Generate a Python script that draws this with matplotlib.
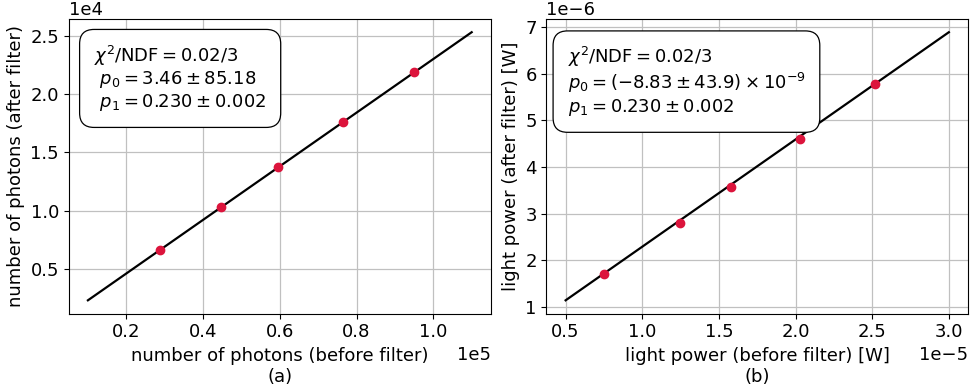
import numpy as np
import matplotlib
matplotlib.use("Agg")
import matplotlib.pyplot as plt

# ---- data ----
# (a) photon counts
photons_before = [0.287e5, 0.447e5, 0.595e5, 0.765e5, 0.951e5]
photons_after = [0.663e4, 1.034e4, 1.374e4, 1.762e4, 2.191e4]
fit_a = (3.46, 0.230)          # p0, p1
fit_a_range = (0.1e5, 1.1e5)

# (b) light power
power_before = [0.75e-5, 1.245e-5, 1.576e-5, 2.03e-5, 2.52e-5]
power_after = [1.70e-6, 2.81e-6, 3.57e-6, 4.61e-6, 5.79e-6]
fit_b = (-8.83e-9, 0.230)
fit_b_range = (0.5e-5, 3.0e-5)

text_a = "\n".join([r"$\chi^2/\mathrm{NDF} = 0.02/3$",
                    r" $p_0 = 3.46 \pm 85.18$",
                    r" $p_1 = 0.230 \pm 0.002$"])
text_b = "\n".join([r"$\chi^2/\mathrm{NDF} = 0.02/3$",
                    r"$p_0 = (-8.83 \pm 43.9) \times 10^{-9}$",
                    r"$p_1 = 0.230 \pm 0.002$"])

plt.rcParams["font.size"] = 13

fig = plt.figure(figsize=(9.72, 3.92), dpi=100)
ax1 = fig.add_axes([0.0707, 0.1997, 0.4343, 0.7523])
ax2 = fig.add_axes([0.5622, 0.1997, 0.4337, 0.7523])


def draw(ax, x, y, fit, xr, txt, xlabel, ylabel, tx, ty):
    xs = np.array(xr)
    ax.plot(xs, fit[0] + fit[1] * xs, color="k", lw=1.6, zorder=2)
    ax.plot(x, y, "o", color="crimson", ms=6, zorder=3)
    ax.grid(True, color="#c0c0c0", lw=0.9)
    ax.set_axisbelow(True)
    ax.ticklabel_format(style="sci", axis="both", scilimits=(0, 0))
    ax.set_xlabel(xlabel)
    ax.set_ylabel(ylabel)
    ax.text(tx, ty, txt, transform=ax.transAxes, va="top", ha="left",
            linespacing=1.1,
            bbox=dict(boxstyle="round,pad=0.8", fc="white", ec="k", lw=0.9))


draw(ax1, photons_before, photons_after, fit_a, fit_a_range, text_a,
     "number of photons (before filter)\n(a)",
     "number of photons (after filter)", 0.06, 0.915)
draw(ax2, power_before, power_after, fit_b, fit_b_range, text_b,
     "light power (before filter) [W]\n(b)",
     "light power (after filter) [W]", 0.05, 0.91)

fig.savefig("out.png", dpi=100)
